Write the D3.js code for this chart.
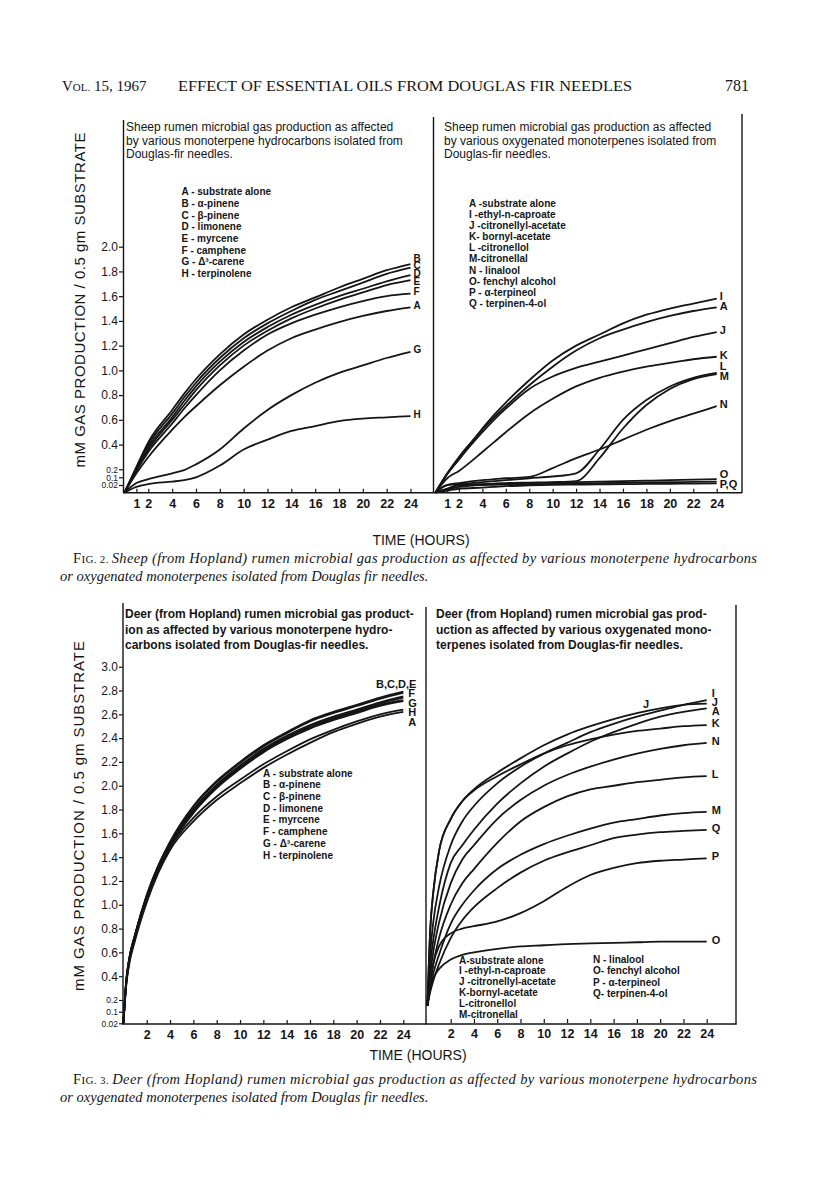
<!DOCTYPE html>
<html><head><meta charset="utf-8">
<script src="https://cdn.jsdelivr.net/npm/d3@7"></script>
<style>body{margin:0;background:#fff}svg{display:block}</style>
</head><body>
<svg id="c" width="816" height="1183"></svg>
<script>
// ---------- DATA ----------
// Fig. 2 (sheep) time grid
const hours2 = [0,1,2,4,5,6,8,10,12,14,16,18,20,22,24];
// Fig. 2 left: monoterpene hydrocarbons
const sheepA = [0,0.15,0.30,0.52,0.62,0.71,0.88,1.03,1.16,1.26,1.33,1.39,1.44,1.48,1.51];
const sheepB = [0,0.22,0.42,0.68,0.81,0.93,1.13,1.29,1.41,1.51,1.59,1.67,1.74,1.81,1.86];
const sheepC = [0,0.21,0.40,0.65,0.78,0.90,1.10,1.26,1.38,1.48,1.57,1.64,1.71,1.78,1.83];
const sheepD = [0,0.20,0.38,0.62,0.75,0.87,1.07,1.23,1.35,1.45,1.53,1.60,1.66,1.72,1.77];
const sheepE = [0,0.19,0.36,0.60,0.72,0.84,1.04,1.20,1.32,1.42,1.50,1.57,1.63,1.69,1.73];
const sheepF = [0,0.18,0.34,0.57,0.69,0.80,1.00,1.16,1.29,1.38,1.45,1.51,1.56,1.60,1.62];
const sheepG = [0,0.04,0.08,0.15,0.19,0.24,0.36,0.53,0.68,0.80,0.90,0.98,1.04,1.10,1.15];
const sheepH = [0,0.015,0.03,0.055,0.07,0.10,0.23,0.36,0.44,0.51,0.55,0.59,0.61,0.62,0.63];
// Fig. 2 right: oxygenated monoterpenes
const sheepI = [0,0.14,0.28,0.53,0.64,0.74,0.92,1.08,1.20,1.29,1.38,1.45,1.50,1.54,1.58];
const sheepJ = [0,0.14,0.28,0.50,0.60,0.69,0.85,0.95,1.02,1.07,1.12,1.17,1.22,1.27,1.31];
const sheepK = [0,0.09,0.18,0.34,0.42,0.50,0.65,0.77,0.87,0.94,0.99,1.03,1.06,1.09,1.11];
const sheepL = [0,0.02,0.03,0.05,0.06,0.07,0.09,0.11,0.15,0.36,0.60,0.76,0.87,0.94,0.98];
const sheepM = [0,0.01,0.02,0.03,0.035,0.04,0.045,0.05,0.06,0.29,0.53,0.72,0.85,0.93,0.97];
const sheepN = [0,0.02,0.04,0.07,0.08,0.09,0.105,0.21,0.29,0.36,0.44,0.52,0.59,0.65,0.71];
const sheepO = [0,0.01,0.02,0.025,0.03,0.035,0.04,0.045,0.05,0.055,0.06,0.065,0.07,0.075,0.08];
const sheepP = [0,0.008,0.015,0.02,0.022,0.025,0.028,0.032,0.036,0.04,0.043,0.046,0.049,0.052,0.055];
const sheepQ = [0,0.005,0.01,0.013,0.015,0.017,0.019,0.021,0.024,0.027,0.029,0.031,0.033,0.035,0.037];

// Fig. 3 (deer) time grid
const hours3 = [0,0.25,0.5,1,2,3,4,6,8,10,12,14,16,18,20,22,24];
// Fig. 3 left: monoterpene hydrocarbons
const deerA = [0.02,0.33,0.50,0.70,1.02,1.27,1.46,1.70,1.88,2.02,2.15,2.26,2.36,2.45,2.52,2.58,2.62];
const deerB = [0.02,0.37,0.55,0.75,1.08,1.33,1.53,1.83,2.04,2.20,2.34,2.45,2.55,2.62,2.68,2.74,2.79];
const deerC = [0.02,0.37,0.55,0.75,1.08,1.33,1.52,1.82,2.03,2.19,2.33,2.44,2.54,2.61,2.67,2.73,2.78];
const deerD = [0.02,0.36,0.54,0.74,1.07,1.32,1.51,1.80,2.01,2.17,2.31,2.42,2.51,2.58,2.64,2.70,2.75];
const deerE = [0.02,0.36,0.54,0.74,1.07,1.31,1.50,1.79,2.00,2.16,2.30,2.41,2.50,2.57,2.63,2.69,2.74];
const deerF = [0.02,0.35,0.53,0.73,1.06,1.31,1.50,1.78,1.99,2.15,2.29,2.40,2.49,2.56,2.62,2.68,2.72];
const deerG = [0.02,0.35,0.53,0.73,1.06,1.30,1.49,1.77,1.98,2.14,2.28,2.39,2.48,2.55,2.61,2.67,2.71];
const deerH = [0.02,0.34,0.52,0.72,1.05,1.29,1.48,1.73,1.91,2.05,2.18,2.29,2.39,2.47,2.54,2.60,2.64];
// Fig. 3 right: oxygenated monoterpenes
const deerA2 = [0.15,0.50,0.70,0.98,1.35,1.50,1.63,1.85,2.02,2.16,2.27,2.37,2.45,2.52,2.58,2.62,2.65];
const deerI = [0.15,0.60,0.85,1.15,1.50,1.70,1.83,2.02,2.16,2.27,2.36,2.45,2.52,2.58,2.63,2.68,2.72];
const deerJ = [0.15,0.80,1.10,1.45,1.72,1.87,1.97,2.11,2.23,2.34,2.43,2.50,2.56,2.61,2.65,2.68,2.69];
const deerK = [0.15,0.80,1.10,1.45,1.72,1.87,1.96,2.08,2.18,2.27,2.34,2.39,2.43,2.46,2.48,2.50,2.51];
const deerL = [0.15,0.35,0.50,0.72,1.00,1.18,1.30,1.52,1.70,1.82,1.91,1.97,2.00,2.03,2.05,2.07,2.08];
const deerM = [0.15,0.30,0.42,0.58,0.84,1.00,1.12,1.30,1.42,1.51,1.58,1.64,1.69,1.72,1.75,1.77,1.78];
const deerN = [0.15,0.42,0.60,0.85,1.18,1.38,1.50,1.72,1.88,2.00,2.09,2.16,2.22,2.27,2.31,2.34,2.36];
const deerO = [0.15,0.30,0.38,0.46,0.54,0.58,0.60,0.63,0.65,0.66,0.67,0.675,0.68,0.685,0.69,0.69,0.69];
const deerP = [0.15,0.35,0.50,0.65,0.76,0.80,0.82,0.86,0.93,1.03,1.15,1.25,1.31,1.35,1.37,1.38,1.39];
const deerQ = [0.15,0.27,0.36,0.50,0.72,0.87,0.98,1.14,1.27,1.37,1.44,1.50,1.56,1.59,1.61,1.62,1.63];

// Ticks
const xTicks2 = [1,2,4,6,8,10,12,14,16,18,20,22,24];
const xTicks3 = [2,4,6,8,10,12,14,16,18,20,22,24];
const yTicks2 = [0.02,0.1,0.2,0.4,0.6,0.8,1.0,1.2,1.4,1.6,1.8,2.0];
const yTickLabels2 = ["0.02","0.1","0.2","0.4","0.6","0.8","1.0","1.2","1.4","1.6","1.8","2.0"];
const yTicks3 = [0.02,0.1,0.2,0.4,0.6,0.8,1.0,1.2,1.4,1.6,1.8,2.0,2.2,2.4,2.6,2.8,3.0];
const yTickLabels3 = ["0.02","0.1","0.2","0.4","0.6","0.8","1.0","1.2","1.4","1.6","1.8","2.0","2.2","2.4","2.6","2.8","3.0"];

// Legends
const legendSheepHydro = ["A - substrate alone","B - α-pinene","C - β-pinene","D - limonene","E - myrcene","F - camphene","G - Δ³-carene","H - terpinolene"];
const legendSheepOxy = ["A -substrate alone","I -ethyl-n-caproate","J -citronellyl-acetate","K- bornyl-acetate","L -citronellol","M-citronellal","N - linalool","O- fenchyl alcohol","P - α-terpineol","Q - terpinen-4-ol"];
const legendDeerHydro = ["A - substrate alone","B - α-pinene","C - β-pinene","D - limonene","E - myrcene","F - camphene","G - Δ³-carene","H - terpinolene"];
const legendDeerOxy1 = ["A-substrate alone","I -ethyl-n-caproate","J -citronellyl-acetate","K-bornyl-acetate","L-citronellol","M-citronellal"];
const legendDeerOxy2 = ["N - linalool","O- fenchyl alcohol","P - α-terpineol","Q- terpinen-4-ol"];

// ---------- DRAWING ----------
const svg = d3.select("#c");
const INK = "#151515";
const sans = "'Liberation Sans', Arial, sans-serif";
const serif = "'Liberation Serif', 'Times New Roman', serif";

// Header
const hdr = svg.append("text").attr("y",91).attr("fill",INK).style("font-family",serif).style("font-size","15px");
hdr.append("tspan").attr("x",62).text("V");
hdr.append("tspan").style("font-size","11px").text("OL.");
hdr.append("tspan").text(" 15, 1967");
svg.append("text").attr("x",178).attr("y",91).attr("fill",INK).attr("textLength",454).attr("lengthAdjust","spacingAndGlyphs")
  .style("font-family",serif).style("font-size","15px").text("EFFECT OF ESSENTIAL OILS FROM DOUGLAS FIR NEEDLES");
svg.append("text").attr("x",725).attr("y",91).attr("fill",INK).style("font-family",serif).style("font-size","16px").text("781");

// Scales
const y2 = d3.scaleLinear().domain([0,0.02,0.1,0.2,2.0]).range([492.5,485,477.3,469.3,246.7]);
const x2L = d3.scaleLinear().domain([0,24]).range([124.5,410.5]);
const x2R = d3.scaleLinear().domain([0,24]).range([435.5,716.7]);
const y3 = d3.scaleLinear().domain([0.02,0.1,0.2,3.0]).range([1023.3,1011.7,1000,666.7]);
const x3L = d3.scaleLinear().domain([0,24]).range([123.4,403.3]);
const x3R = d3.scaleLinear().domain([0,24]).range([427.4,706.7]);

function vline(x, y1, y2v){ svg.append("line").attr("x1",x).attr("x2",x).attr("y1",y1).attr("y2",y2v).attr("stroke",INK).attr("stroke-width",1.4); }
function hline(x1, x2v, y){ svg.append("line").attr("x1",x1).attr("x2",x2v).attr("y1",y).attr("y2",y).attr("stroke",INK).attr("stroke-width",1.6); }

function xAxis(x, ticks, yPos){
  const g = svg.append("g").attr("transform",`translate(0,${yPos})`)
    .call(d3.axisBottom(x).tickValues(ticks).tickSize(-4).tickPadding(6).tickFormat(d3.format("d")));
  g.select(".domain").remove();
  g.selectAll("line").attr("stroke",INK).attr("stroke-width",1.2);
  g.selectAll("text").attr("fill",INK).style("font-family",sans).style("font-size","12.5px").style("font-weight","bold");
}
function yAxis(y, ticks, labels, xPos){
  const g = svg.append("g").attr("transform",`translate(${xPos},0)`)
    .call(d3.axisLeft(y).tickValues(ticks).tickSize(4).tickPadding(1).tickFormat((d,i)=>labels[i]));
  g.select(".domain").remove();
  g.selectAll("line").attr("stroke",INK).attr("stroke-width",1.2);
  g.selectAll("text").attr("fill",INK).style("font-family",sans)
    .style("font-size",d=> d<=0.2 ? "8.5px" : "12px");
}
function drawCurves(x, y, hours, seriesList){
  const line = d3.line().x((d,i)=>x(hours[i])).y(d=>y(d)).curve(d3.curveMonotoneX);
  svg.append("g").selectAll("path").data(seriesList).join("path")
    .attr("d",s=>line(s.values)).attr("fill","none").attr("stroke",INK).attr("stroke-width",1.8);
}
function spread(items, gap){
  items.sort((a,b)=>a.y-b.y);
  for(let it=0; it<80; it++){
    for(let i=1;i<items.length;i++){
      const d = items[i].y - items[i-1].y;
      if(d<gap){ const s=(gap-d)/2; items[i-1].y-=s; items[i].y+=s; }
    }
  }
  return items;
}
function endLabels(x, y, seriesList, gap, dx, shift, size){
  const items = seriesList.map(s=>({label:s.label, y:y(s.values[s.values.length-1])+shift}));
  spread(items, gap);
  svg.append("g").selectAll("text").data(items).join("text")
    .attr("x",d=> d.label.length>3 ? x(24)+dx+8 : x(24)+dx)
    .attr("text-anchor",d=> d.label.length>3 ? "end":"start")
    .attr("y",d=>d.y).attr("dy","0.36em").attr("fill",INK)
    .style("font-family",sans).style("font-weight","bold").style("font-size",size+"px").text(d=>d.label);
}
function textLines(lines, x, y0, dy, size, weight){
  svg.append("g").selectAll("text").data(lines).join("text")
    .attr("x",x).attr("y",(d,i)=>y0+i*dy).attr("dy","0.36em").attr("fill",INK)
    .style("font-family",sans).style("font-size",size+"px").style("font-weight",weight).text(d=>d);
}
function yTitle(cx, cy, len){
  svg.append("text").attr("transform",`translate(${cx},${cy}) rotate(-90)`).attr("text-anchor","middle")
    .attr("textLength",len).attr("lengthAdjust","spacing").attr("fill",INK)
    .style("font-family",sans).style("font-size","15px").text("mM  GAS  PRODUCTION / 0.5 gm  SUBSTRATE");
}
function caption(y, figLabel, line1, line2){
  const t = svg.append("text").attr("x",73).attr("y",y).attr("fill",INK).attr("textLength",684).attr("lengthAdjust","spacing")
    .style("font-family",serif).style("font-size","14.5px");
  t.append("tspan").text("F"); t.append("tspan").style("font-size","11px").text(figLabel);
  t.append("tspan").style("font-style","italic").text(line1);
  svg.append("text").attr("x",60).attr("y",y+17.5).attr("fill",INK).style("font-family",serif).style("font-size","14.5px").style("font-style","italic").text(line2);
}

// ===== FIG. 2 =====
vline(123.5,120,493); vline(433.5,117,493); vline(742,114,493);
hline(123,742,492.7);
yAxis(y2, yTicks2, yTickLabels2, 123);
xAxis(x2L, xTicks2, 492.7);
xAxis(x2R, xTicks2, 492.7);
yTitle(85, 300, 335);

textLines(["Sheep rumen microbial gas production as affected","by various monoterpene hydrocarbons isolated from","Douglas-fir needles."],126,127,13.4,12,"normal");
textLines(["Sheep rumen microbial gas production as affected","by various oxygenated monoterpenes isolated from","Douglas-fir needles."],444,127,13.4,12,"normal");
textLines(legendSheepHydro,181.5,191.7,11.66,10,"bold");
textLines(legendSheepOxy,469,203.3,11.1,10,"bold");

const fig2L = [
  {label:"B",values:sheepB},{label:"C",values:sheepC},{label:"D",values:sheepD},{label:"E",values:sheepE},
  {label:"F",values:sheepF},{label:"A",values:sheepA},{label:"G",values:sheepG},{label:"H",values:sheepH}];
drawCurves(x2L, y2, hours2, fig2L);
endLabels(x2L, y2, fig2L, 7.8, 3, -2, 10);

const fig2R = [
  {label:"I",values:sheepI},{label:"A",values:sheepA},{label:"J",values:sheepJ},{label:"K",values:sheepK},
  {label:"L",values:sheepL},{label:"M",values:sheepM},{label:"N",values:sheepN},{label:"O",values:sheepO},
  {label:"P",values:sheepP},{label:"Q",values:sheepQ}];
drawCurves(x2R, y2, hours2, fig2R);
endLabels(x2R, y2, [fig2R[0],fig2R[1],fig2R[2],fig2R[3],fig2R[4],fig2R[5],fig2R[6],fig2R[7],{label:"P,Q",values:sheepQ}], 10, 3, -2, 11);

svg.append("text").attr("x",421).attr("y",545).attr("text-anchor","middle").attr("fill",INK)
  .style("font-family",sans).style("font-size","14px").text("TIME (HOURS)");
caption(563, "IG. 2. ", "Sheep (from Hopland) rumen microbial gas production as affected by various monoterpene hydrocarbons",
  "or oxygenated monoterpenes isolated from Douglas fir needles.");

// ===== FIG. 3 =====
vline(123,603,1024.5); vline(426,607,1024.5); vline(736,605,1024.5);
hline(122.5,736.5,1024);
yAxis(y3, yTicks3, yTickLabels3, 123);
xAxis(x3L, xTicks3, 1024);
xAxis(x3R, xTicks3, 1023);
yTitle(84, 816, 350);

textLines(["Deer (from Hopland) rumen  microbial gas product-","ion as  affected  by  various  monoterpene  hydro-","carbons isolated from  Douglas-fir  needles."],125,613.5,15.8,12,"bold");
textLines(["Deer (from Hopland) rumen microbial gas  prod-","uction  as  affected by various oxygenated  mono-","terpenes isolated from  Douglas-fir  needles."],436,613.5,15.8,12,"bold");
textLines(legendDeerHydro,263,773,11.7,10,"bold");
textLines(legendDeerOxy1,459,960,10.8,10,"bold");
textLines(legendDeerOxy2,593,959.3,11.5,10,"bold");

const fig3L = [
  {label:"B",values:deerB},{label:"C",values:deerC},{label:"D",values:deerD},{label:"E",values:deerE},
  {label:"F",values:deerF},{label:"G",values:deerG},{label:"H",values:deerH},{label:"A",values:deerA}];
drawCurves(x3L, y3, hours3, fig3L);
endLabels(x3L, y3, [{label:"B,C,D,E",values:deerB},fig3L[4],fig3L[5],fig3L[6],fig3L[7]], 9.6, 5, 0, 11);

const fig3R = [
  {label:"I",values:deerI},{label:"J",values:deerJ},{label:"A",values:deerA2},{label:"K",values:deerK},
  {label:"N",values:deerN},{label:"L",values:deerL},{label:"M",values:deerM},{label:"Q",values:deerQ},
  {label:"P",values:deerP},{label:"O",values:deerO}];
drawCurves(x3R, y3, hours3, fig3R);
endLabels(x3R, y3, fig3R, 8.8, 5, -2, 11);
// mid-curve label for J
const jIdx = hours3.indexOf(18);
svg.append("text").attr("x",x3R(18.8)).attr("y",y3(deerJ[jIdx])-9).attr("dy","0.36em").attr("text-anchor","middle").attr("fill",INK)
  .style("font-family",sans).style("font-weight","bold").style("font-size","11px").text("J");

svg.append("text").attr("x",418).attr("y",1060).attr("text-anchor","middle").attr("fill",INK)
  .style("font-family",sans).style("font-size","14px").text("TIME (HOURS)");
caption(1084, "IG. 3. ", "Deer (from Hopland) rumen microbial gas production as affected by various monoterpene hydrocarbons",
  "or oxygenated monoterpenes isolated from Douglas fir needles.");
</script>
</body></html>
